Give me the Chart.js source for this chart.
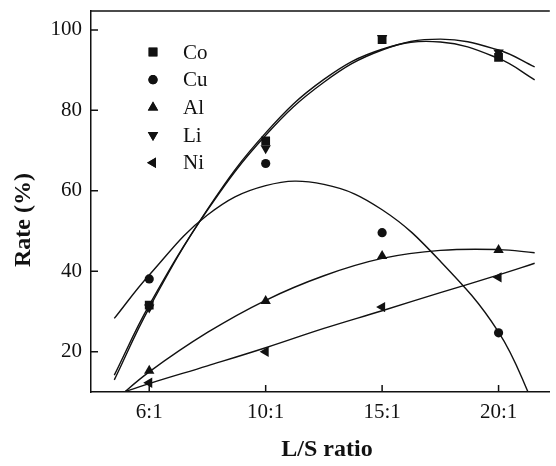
<!DOCTYPE html>
<html>
<head>
<meta charset="utf-8">
<script src="https://cdn.jsdelivr.net/npm/chart.js@4.4.1/dist/chart.umd.min.js"></script>
<style>
  html, body { margin: 0; padding: 0; background: #fff; }
  #wrap { width: 556px; height: 466px; }
</style>
</head>
<body>
<div id="wrap"><canvas id="rateChart"></canvas></div>
<script>
// MEASURED POINTS (x = position of each L/S ratio on the axis)
var ratioLabels = ['6:1', '10:1', '15:1', '20:1'];
var ratioPos = [1, 2, 3, 4];
var coRate = [31.6, 72.4, 97.6, 93.2];
var cuRate = [38.1, 66.8, 49.6, 24.7];
var alRate = [15.3, 32.6, 43.8, 45.3];
var liRate = [31.0, 70.6, 98.0, 94.4];
var niRate = [12.3, 20.0, 31.1, 38.5];

// FITTED CURVES
var fitX = [0.7, 1, 1.5, 2, 2.5, 3, 3.5, 4, 4.31];
var coFit = [14.2, 31.6, 55.2, 73.8, 87.0, 95.0, 97.7, 95.0, 90.8];
var liFit = [13.0, 30.9, 55.4, 74.4, 87.7, 95.2, 97.0, 92.9, 87.6];
var cuFit = [28.3, 39.1, 54.0, 61.3, 61.6, 55.3, 42.5, 24.9, 6.4];
var alFit = [7.8, 15.0, 24.8, 32.8, 38.9, 43.2, 45.2, 45.4, 44.6];
var niFit = [9.2, 12.1, 16.5, 21.0, 25.8, 30.2, 34.7, 39.1, 42.0];

var yTicks = [20, 40, 60, 80, 100];
var metals = ['Co', 'Cu', 'Al', 'Li', 'Ni'];

var ink = '#111';
var serif = "'Liberation Serif', 'Times New Roman', serif";

function pts(xs, ys) {
  return ys.map(function (v, i) { return { x: xs[i], y: v }; });
}

var markerStyle = {
  Co: { pointStyle: 'rect', radius: 6.2, rotation: 0 },
  Cu: { pointStyle: 'circle', radius: 4.6, rotation: 0 },
  Al: { pointStyle: 'triangle', radius: 6, rotation: 0 },
  Li: { pointStyle: 'triangle', radius: 6, rotation: 180 },
  Ni: { pointStyle: 'triangle', radius: 6, rotation: 270 }
};

function markerSet(name, values) {
  var st = markerStyle[name];
  return {
    label: name,
    data: pts(ratioPos, values),
    showLine: false,
    pointStyle: st.pointStyle,
    pointRadius: st.radius,
    rotation: st.rotation,
    backgroundColor: ink,
    borderColor: ink,
    borderWidth: 0
  };
}

function fitSet(name, values) {
  return {
    label: name + ' fit',
    data: pts(fitX, values),
    showLine: true,
    tension: 0.4,
    pointRadius: 0,
    borderColor: ink,
    borderWidth: 1.4,
    fill: false
  };
}

// FRAME, INWARD TICKS, AXIS TITLES AND LEGEND
var framePlugin = {
  id: 'frame',
  afterDraw: function (chart) {
    var ctx = chart.ctx;
    var area = chart.chartArea;
    var xs = chart.scales.x, ys = chart.scales.y;
    ctx.save();
    ctx.strokeStyle = ink;
    ctx.lineWidth = 1.5;
    ctx.beginPath();
    ctx.moveTo(area.left, area.top);
    ctx.lineTo(area.right, area.top);
    ratioPos.forEach(function (v) {
      var px = xs.getPixelForValue(v);
      ctx.moveTo(px, area.bottom);
      ctx.lineTo(px, area.bottom - 7);
    });
    yTicks.forEach(function (v) {
      var py = ys.getPixelForValue(v);
      ctx.moveTo(area.left, py);
      ctx.lineTo(area.left + 7, py);
    });
    ctx.stroke();

    ctx.fillStyle = ink;
    ctx.font = 'bold 24px ' + serif;
    ctx.textAlign = 'center';
    ctx.textBaseline = 'middle';
    ctx.fillText('L/S ratio', 327, 450);
    ctx.save();
    ctx.translate(24, 220);
    ctx.rotate(-Math.PI / 2);
    ctx.fillText('Rate (%)', 0, 0);
    ctx.restore();

    // legend
    ctx.font = '21px ' + serif;
    ctx.textAlign = 'left';
    metals.forEach(function (name, i) {
      var st = markerStyle[name];
      var y = 52 + i * 27.7;
      Chart.helpers.drawPoint(ctx, {
        pointStyle: st.pointStyle, radius: st.radius, rotation: st.rotation, borderWidth: 0
      }, 153, y);
      ctx.fill();
      ctx.fillText(name, 183, y + 1);
    });
    ctx.restore();
  }
};

var ctx = document.getElementById('rateChart').getContext('2d');
var rateChart = new Chart(ctx, {
  type: 'scatter',
  data: {
    datasets: [
      fitSet('Co', coFit),
      fitSet('Li', liFit),
      fitSet('Cu', cuFit),
      fitSet('Al', alFit),
      fitSet('Ni', niFit),
      markerSet('Co', coRate),
      markerSet('Cu', cuRate),
      markerSet('Al', alRate),
      markerSet('Li', liRate),
      markerSet('Ni', niRate)
    ]
  },
  options: {
    responsive: true,
    maintainAspectRatio: false,
    animation: false,
    devicePixelRatio: 1,
    layout: { padding: { top: 11, right: 0, bottom: 0, left: 0 } },
    plugins: {
      legend: { display: false },
      tooltip: { enabled: false }
    },
    scales: {
      x: {
        type: 'linear',
        min: 0.5,
        max: 4.44,
        afterBuildTicks: function (scale) {
          scale.ticks = ratioPos.map(function (v) { return { value: v }; });
        },
        afterFit: function (scale) {
          scale.height = 74;
          scale.paddingLeft = 0;
          scale.paddingRight = 0;
        },
        ticks: {
          autoSkip: false,
          maxRotation: 0,
          padding: 8,
          color: ink,
          font: { family: serif, size: 21 },
          callback: function (v) { return ratioLabels[ratioPos.indexOf(v)]; }
        },
        grid: { display: false, drawTicks: false },
        border: { display: true, color: ink, width: 1.5 }
      },
      y: {
        min: 10,
        max: 104.7,
        afterBuildTicks: function (scale) {
          scale.ticks = yTicks.map(function (v) { return { value: v }; });
        },
        afterFit: function (scale) {
          scale.width = 91;
          scale.paddingTop = 0;
          scale.paddingBottom = 0;
        },
        ticks: {
          padding: 9,
          color: ink,
          font: { family: serif, size: 21 }
        },
        grid: { display: false, drawTicks: false },
        border: { display: true, color: ink, width: 1.5 }
      }
    }
  },
  plugins: [framePlugin]
});
</script>
</body>
</html>
